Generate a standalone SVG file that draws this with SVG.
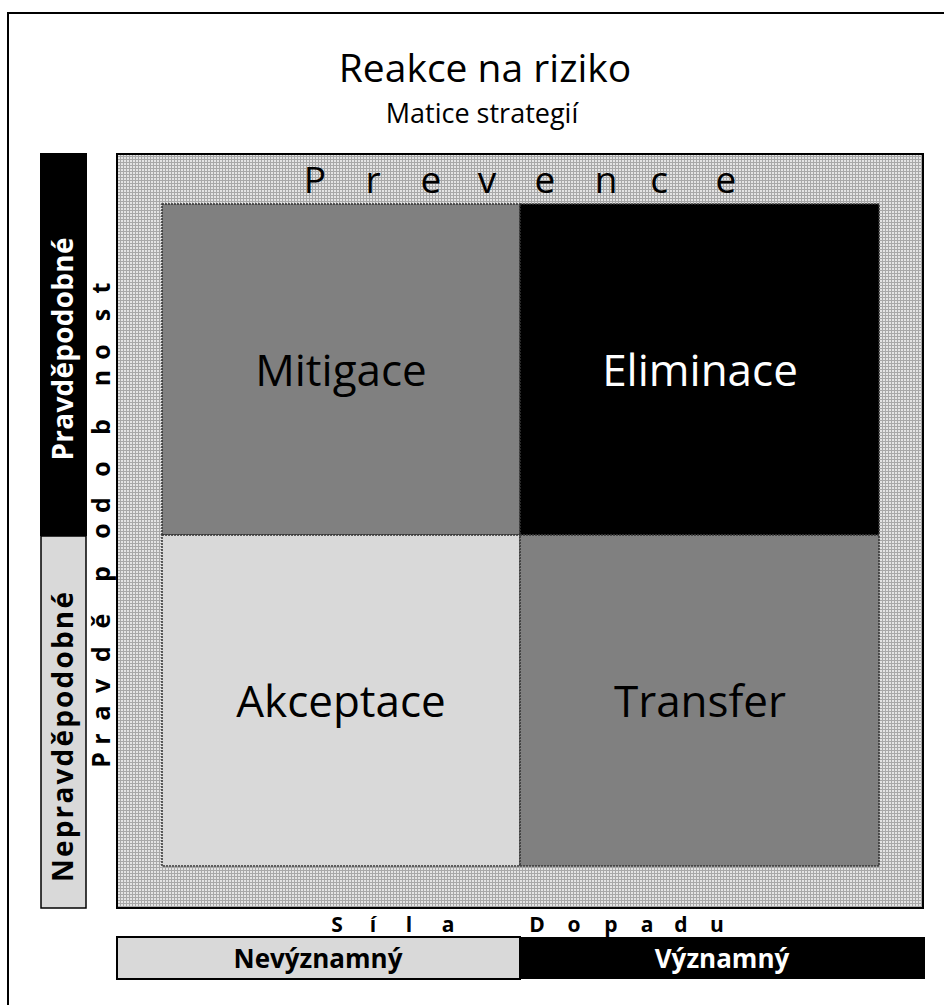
<svg xmlns="http://www.w3.org/2000/svg" width="944" height="1005" viewBox="0 0 944 1005">
  <defs>
    <!-- fine grid fill used for the "Prevence" surround -->
    <pattern id="checker" x="0" y="0" width="3" height="3" patternUnits="userSpaceOnUse">
      <rect width="3" height="3" fill="#e4e4e4"/>
      <rect width="3" height="1" fill="#a8a8a8"/>
      <rect width="1" height="3" fill="#a8a8a8"/>
    </pattern>
    <style>
      .sans { font-family: "Open Sans", "Liberation Sans", sans-serif; }
      .bold { font-family: "Open Sans", "Liberation Sans", sans-serif; font-weight: bold; }
      .quad { stroke: #333; stroke-width: 1.5; stroke-dasharray: 2 1; }
      .qlabel { font-family: "Open Sans", "Liberation Sans", sans-serif; font-size: 44px; text-anchor: middle; }
      .mid { text-anchor: middle; }
    </style>
  </defs>

  <rect width="944" height="1005" fill="#fff"/>

  <!-- page frame (runs off the right and bottom edges) -->
  <path d="M8,1005 V13 H944" fill="none" stroke="#000" stroke-width="2"/>

  <!-- headings -->
  <g id="title">
    <text class="sans mid" x="485" y="82" font-size="39">Reakce na riziko</text>
    <text class="sans mid" x="482" y="123" font-size="27">Matice strategií</text>
  </g>

  <!-- surround band -->
  <g id="prevence">
    <rect x="117" y="154" width="806" height="754" fill="url(#checker)" stroke="#000" stroke-width="2"/>
    <text class="sans mid" y="193" font-size="37" x="315 373 431 487 545 606 659 726">Prevence</text>
  </g>

  <!-- strategy quadrants -->
  <g id="mitigace">
    <rect class="quad" x="162" y="204" width="358" height="331" fill="#808080"/>
    <text class="qlabel" x="341" y="386" fill="#000">Mitigace</text>
  </g>
  <g id="eliminace">
    <rect class="quad" x="520" y="204" width="359" height="331" fill="#000"/>
    <text class="qlabel" x="700" y="386" fill="#fff">Eliminace</text>
  </g>
  <g id="akceptace">
    <rect class="quad" x="162" y="535" width="358" height="331" fill="#d9d9d9"/>
    <text class="qlabel" x="341" y="717" fill="#000">Akceptace</text>
  </g>
  <g id="transfer">
    <rect class="quad" x="520" y="535" width="359" height="331" fill="#808080"/>
    <text class="qlabel" x="700" y="717" fill="#000">Transfer</text>
  </g>

  <!-- probability axis -->
  <g id="osa-pravdepodobnost">
    <rect x="40" y="153" width="47" height="383" fill="#000"/>
    <rect x="41" y="536" width="45" height="372" fill="#d9d9d9" stroke="#000" stroke-width="1.5"/>
    <text class="bold mid" font-size="28" fill="#fff" textLength="223" transform="translate(73,349) rotate(-90)">Pravděpodobné</text>
    <text class="bold mid" font-size="28" fill="#000" textLength="290" transform="translate(73,737) rotate(-90)">Nepravděpodobné</text>
    <text class="bold mid" font-size="25" fill="#000" transform="rotate(-90)" y="110"
          x="-760 -739 -713 -686 -654 -621 -574 -531 -505 -469 -427 -378 -352 -315 -288">Pravděpodobnost</text>
  </g>

  <!-- impact axis -->
  <g id="osa-dopad">
    <text class="bold mid" font-size="21" y="932" x="337 373 409 448 537 574 611 647 681 717">SílaDopadu</text>
    <rect x="117" y="937" width="403" height="42" fill="#d9d9d9" stroke="#000" stroke-width="2"/>
    <rect x="520" y="937" width="405" height="42" fill="#000"/>
    <text class="bold mid" font-size="26" x="318" y="968" fill="#000">Nevýznamný</text>
    <text class="bold mid" font-size="26" x="722" y="968" fill="#fff">Významný</text>
  </g>
</svg>
